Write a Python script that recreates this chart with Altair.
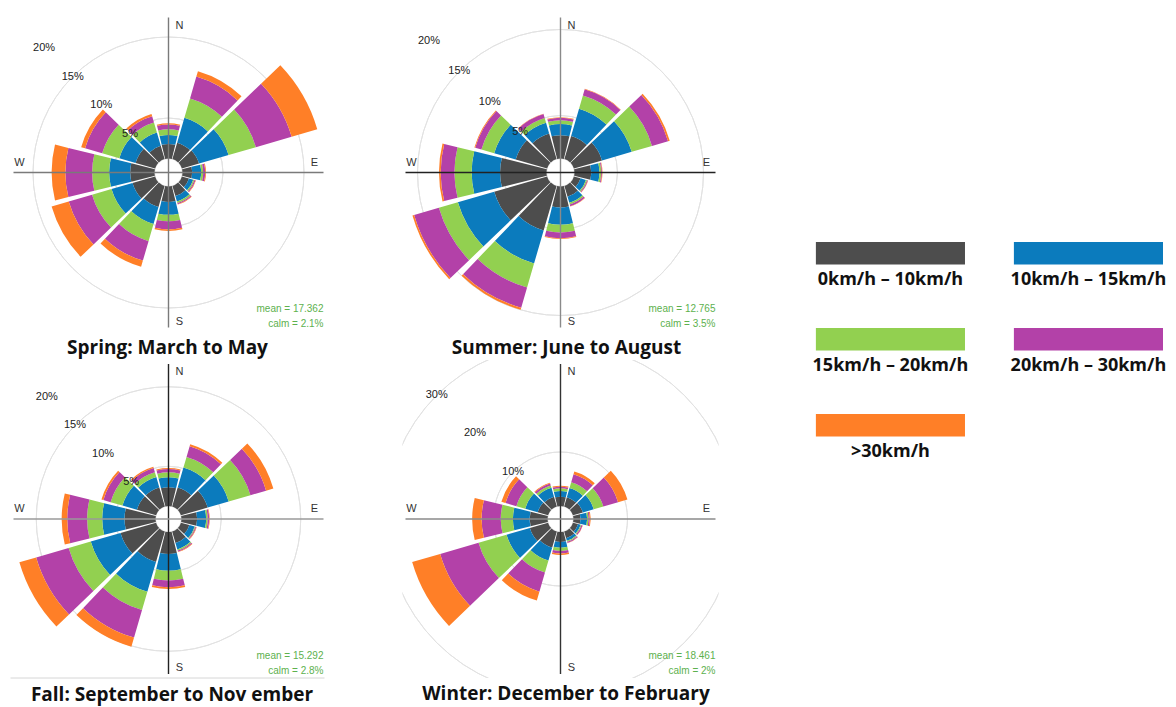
import math
import numpy as np
import pandas as pd
import altair as alt

# ---------------- data ----------------
DIRECTIONS = [0, 30, 60, 90, 120, 150, 180, 210, 240, 270, 300, 330]
SPEED_BINS = ["0km/h – 10km/h", "10km/h – 15km/h", "15km/h – 20km/h",
              "20km/h – 30km/h", ">30km/h"]

# frequency (%) per direction for each speed band
spring_0_10 = [1.8, 2.1, 2.2, 1.2, 0.9, 1.3, 1.9, 2.7, 2.9, 3.0, 2.5, 1.7]
spring_10_15 = [1.1, 3.2, 3.8, 1.1, 0.55, 0.7, 1.6, 2.2, 2.7, 2.6, 2.1, 1.7]
spring_15_20 = [0.7, 2.5, 3.5, 0.25, 0.15, 0.2, 0.8, 2.2, 2.5, 2.1, 2.2, 1.3]
spring_20_30 = [0.6, 2.8, 4.6, 0.25, 0.15, 0.15, 1.0, 2.5, 3.0, 3.3, 2.2, 0.8]
spring_30p = [0.15, 0.7, 3.3, 0.1, 0.05, 0.05, 0.2, 0.8, 2.2, 1.7, 0.5, 0.3]

summer_0_10 = [2.7, 2.8, 3.4, 1.95, 0.8, 1.3, 2.45, 5.4, 6.4, 5.4, 3.8, 3.1]
summer_10_15 = [1.3, 3.3, 3.6, 0.95, 0.65, 0.75, 2.0, 4.0, 4.4, 3.3, 2.6, 1.3]
summer_15_20 = [0.45, 1.6, 2.45, 0.2, 0.15, 0.2, 0.9, 2.9, 2.3, 2.0, 1.55, 0.56]
summer_20_30 = [0.28, 0.75, 1.95, 0.1, 0.1, 0.2, 0.65, 2.45, 3.0, 1.6, 0.75, 0.49]
summer_30p = [0.07, 0.05, 0.2, 0.05, 0.02, 0.05, 0.1, 0.25, 0.2, 0.2, 0.1, 0.05]

fall_0_10 = [2.35, 2.5, 3.5, 1.97, 1.1, 1.5, 2.77, 4.0, 4.65, 3.9, 2.5, 2.5]
fall_10_15 = [1.25, 2.6, 2.75, 1.13, 0.7, 0.85, 2.1, 3.9, 3.9, 2.8, 1.9, 1.35]
fall_15_20 = [0.64, 1.4, 2.85, 0.2, 0.1, 0.15, 1.23, 2.4, 2.9, 1.9, 1.55, 0.65]
fall_20_30 = [0.41, 1.4, 2.05, 0.18, 0.1, 0.15, 0.86, 3.6, 4.25, 2.5, 0.95, 0.55]
fall_30p = [0.13, 0.25, 0.95, 0.07, 0.05, 0.05, 0.21, 1.2, 2.2, 0.7, 0.25, 0.15]

winter_0_10 = [1.73, 1.8, 1.9, 1.3, 0.99, 1.3, 1.85, 3.1, 3.5, 3.3, 2.0, 1.9]
winter_10_15 = [1.05, 1.78, 2.1, 1.23, 0.49, 0.5, 1.05, 2.5, 4.5, 3.1, 2.4, 1.7]
winter_15_20 = [0.49, 1.12, 1.85, 0.27, 0.17, 0.2, 0.6, 2.3, 5.4, 2.25, 1.7, 0.45]
winter_20_30 = [0.31, 1.53, 2.85, 0.22, 0.2, 0.2, 0.5, 3.7, 7.4, 3.55, 2.1, 0.4]
winter_30p = [0.19, 0.53, 1.8, 0.18, 0.05, 0.05, 0.26, 1.7, 5.4, 1.75, 0.8, 0.15]

SEASON_TITLES = ["Spring: March to May", "Summer: June to August",
                 "Fall: September to Nov ember", "Winter: December to February"]
MEAN_SPEED = ["17.362", "12.765", "15.292", "18.461"]
CALM = ["2.1%", "3.5%", "2.8%", "2%"]
RING_TICKS = [[5, 10, 15, 20], [5, 10, 15, 20], [5, 10, 15, 20], [10, 20, 30]]

SEASON_BANDS = [
    [spring_0_10, spring_10_15, spring_15_20, spring_20_30, spring_30p],
    [summer_0_10, summer_10_15, summer_15_20, summer_20_30, summer_30p],
    [fall_0_10, fall_10_15, fall_15_20, fall_20_30, fall_30p],
    [winter_0_10, winter_10_15, winter_15_20, winter_20_30, winter_30p],
]

# ---------------- styles / layout ----------------
BAND_COLORS = ["#4d4d4d", "#0b7bbd", "#92d050", "#b341a8", "#ff7f27"]
LEGEND_COLORS = ["#515151", "#0b7bbd", "#93d150", "#da57c9", "#fe7f2d"]
# radius scale (domain max, inner hole px, px at domain max)
RADIUS_SCALES = [(20, 14, 176), (20, 14, 186), (20, 13, 172), (30, 13, 175)]
AXIS_COLORS = [("#7a7a7a", "#7a7a7a"), ("#8a8a8a", "#222222"),
               ("#222222", "#9a9a9a"), ("#333333", "#8a8a8a")]
TITLE_DX = [-1, 6, 3.5, 5.5]
W, H = 316, 318
CX, CY = W / 2, H / 2
HALF_GAP = 1.2  # degrees
THETA_SCALE = alt.Scale(domain=[0, 360], range=[0, 2 * math.pi])
LABEL_FONT = "Liberation Sans"
TITLE_FONT = "Open Sans"


def one(v=0):
    return pd.DataFrame({"v": [v]})


def rose(i):
    bands = np.array(SEASON_BANDS[i])          # 5 x 12
    top = np.cumsum(bands, axis=0)
    bottom = top - bands
    rows = []
    for b, name in enumerate(SPEED_BINS):
        for d, ang in enumerate(DIRECTIONS):
            rows.append({"dir": ang, "speed": name,
                         "lo": float(bottom[b, d]), "hi": float(top[b, d])})
    df = pd.DataFrame(rows)
    dmax, r0, r1 = RADIUS_SCALES[i]
    rscale = alt.Scale(type="linear", domain=[0, dmax], range=[r0, r1])

    rings_df = pd.DataFrame({"pct": RING_TICKS[i],
                             "label": [f"{t}%" for t in RING_TICKS[i]]})

    rings = alt.Chart(rings_df).mark_arc(
        theta=0, theta2=2 * math.pi, fillOpacity=0, stroke="#e2e2e2",
        strokeWidth=1, clip=True
    ).encode(radius=alt.Radius("pct:Q", scale=rscale))

    sectors = alt.Chart(df).transform_calculate(
        t0=f"datum.dir - 15 + {HALF_GAP}", t1=f"datum.dir + 15 - {HALF_GAP}"
    ).mark_arc().encode(
        theta=alt.Theta("t0:Q", scale=THETA_SCALE, stack=False),
        theta2="t1:Q",
        radius=alt.Radius("hi:Q", scale=rscale, stack=False),
        radius2="lo:Q",
        color=alt.Color("speed:N", scale=alt.Scale(domain=SPEED_BINS, range=BAND_COLORS),
                        legend=None),
    )

    ring_labels = alt.Chart(rings_df).transform_calculate(a="315").mark_text(
        font=LABEL_FONT, fontSize=11, color="#222"
    ).encode(
        theta=alt.Theta("a:Q", scale=THETA_SCALE),
        radius=alt.Radius("pct:Q", scale=rscale),
        text="label:N",
    )

    vcol, hcol = AXIS_COLORS[i]
    vline = alt.Chart(one()).mark_rule(color=vcol, strokeWidth=1.4).encode(
        x=alt.value(CX), y=alt.value(CY - 155), y2=alt.value(CY + 155))
    hline = alt.Chart(one()).mark_rule(color=hcol, strokeWidth=1.4).encode(
        x=alt.value(CX - 155), x2=alt.value(CX + 155), y=alt.value(CY))

    def lab(t, dx, dy):
        return alt.Chart(pd.DataFrame({"t": [t]})).mark_text(
            font=LABEL_FONT, fontSize=11, color="#333"
        ).encode(x=alt.value(CX + dx), y=alt.value(CY + dy), text="t:N")

    compass = [lab("N", 11, -147), lab("S", 11, 149), lab("W", -149, -10), lab("E", 146, -10)]

    stats = alt.Chart(pd.DataFrame({
        "t": [f"mean = {MEAN_SPEED[i]}", f"calm = {CALM[i]}"],
        "k": [0, 1]})).mark_text(
        font=LABEL_FONT, fontSize=10, color="#5db14e", align="right"
    ).encode(
        x=alt.value(CX + 155),
        y=alt.Y("k:O", axis=None, scale=alt.Scale(range=[CY + 129, CY + 159])),
        text="t:N",
    )

    layers = [rings, sectors, ring_labels, vline, hline] + compass + [stats]
    if i == 2:
        layers.append(alt.Chart(one()).mark_rule(color="#d6d6d6", strokeWidth=1).encode(
            x=alt.value(0), x2=alt.value(W - 2), y=alt.value(H)))

    return alt.layer(*layers).properties(
        width=W, height=H,
        title=alt.TitleParams(
            SEASON_TITLES[i], orient="bottom", anchor="middle", offset=7,
            fontSize=19, font=TITLE_FONT, fontWeight="bold", color="#111111",
            dx=TITLE_DX[i]),
    )


# ---------------- legend ----------------
LEG_W = 368.5
leg_df = pd.DataFrame({"label": SPEED_BINS,
                       "col": [k % 2 for k in range(len(SPEED_BINS))],
                       "row": [k // 2 for k in range(len(SPEED_BINS))]})
lx = alt.X("col:O", axis=None,
           scale=alt.Scale(paddingInner=0.247, paddingOuter=0.054, align=1))
ly = alt.Y("row:O", axis=None,
           scale=alt.Scale(paddingInner=0.738, paddingOuter=0, range=[228.5, 423]))
leg_rect = alt.Chart(leg_df).mark_rect().encode(
    x=lx, y=ly,
    color=alt.Color("label:N", scale=alt.Scale(domain=SPEED_BINS, range=LEGEND_COLORS),
                    legend=None),
)
leg_text = alt.Chart(leg_df).mark_text(
    font=TITLE_FONT, fontSize=18, fontWeight="bold", color="#111111", dy=27
).encode(x=lx, y=ly, text="label:N")
legend = alt.layer(leg_rect, leg_text).properties(width=LEG_W, height=H)

chart = alt.concat(
    rose(0), rose(1), legend, rose(2), rose(3),
    columns=3, spacing={"row": 28.5, "column": 76}, bounds="flush",
).properties(
    padding={"left": 1.5, "top": 5.5, "right": 0, "bottom": 8}
).configure_view(strokeWidth=0)

chart.save("out.html", embed_options={"renderer": "svg", "actions": False})
